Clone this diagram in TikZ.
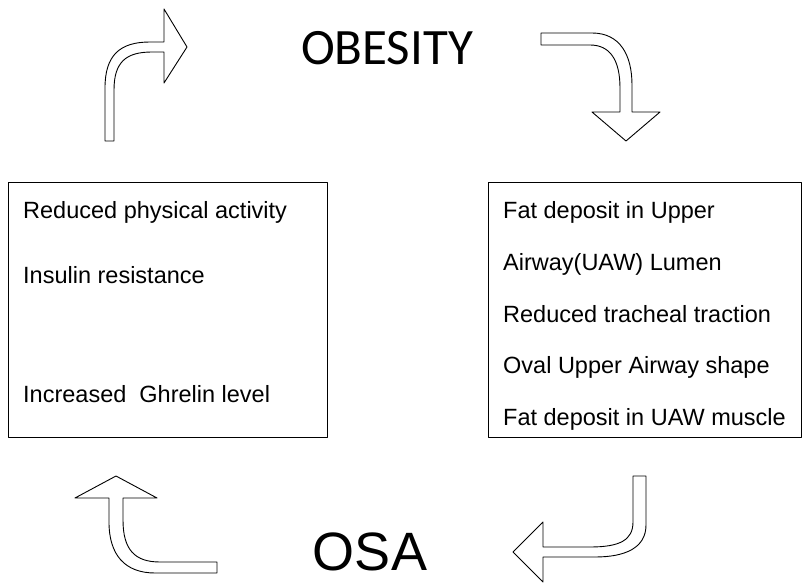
\documentclass[tikz,border=0pt]{standalone}
\usepackage{fontspec}
\setmainfont{Liberation Sans}
\newfontfamily\calfont{Carlito}
\usepackage{tikz}
\usetikzlibrary{arrows}

\begin{document}
\begin{tikzpicture}[line cap=round,line join=round,x=1pt,y=-1pt]
\useasboundingbox (0,0) rectangle (806,583);
\tikzset{boxtext/.style={anchor=base west,inner sep=0pt,font=\fontsize{23.5}{26}\selectfont}}
% boxes
\draw[line width=1pt] (8,182) rectangle (327,437);
\draw[line width=1pt] (488,182) rectangle (801,437);
% titles
\draw (387,65) node[anchor=base,inner sep=0pt,font=\calfont\fontsize{51}{55}\selectfont] (obesity) {OBESITY};
\draw (370,570) node[anchor=base,inner sep=0pt,font=\fontsize{54}{58}\selectfont] (osa) {OSA};
% left box
\draw (23,218) node[boxtext] (lA) {Reduced physical activity};
\draw (23,283) node[boxtext] (lB) {Insulin resistance};
\draw (23,402) node[boxtext] (lC) {Increased\ \ Ghrelin level};
% right box
\draw (503,218) node[boxtext] (rA) {Fat deposit in Upper};
\draw (503,270) node[boxtext] (rB) {Airway(UAW) Lumen};
\draw (503,322) node[boxtext] (rC) {Reduced tracheal traction};
\draw (503,373) node[boxtext] (rD) {Oval Upper Airway shape};
\draw (503,425) node[boxtext] (rE) {Fat deposit in UAW muscle};
% block arrows
\draw[line width=0.9pt] (105,141) -- (105,88) .. controls (105,55) and (120,42) .. (150,42) -- (164,42) -- (164,9) -- (187,47) -- (164,83) -- (164,52) -- (152,52) .. controls (126,52) and (114,62) .. (114,90) -- (114,141) -- cycle;
\draw[line width=0.9pt] (541,33) -- (592,33) .. controls (620,33) and (632,55) .. (632,85) -- (632,112) -- (660,112) -- (626,141) -- (592,112) -- (620,112) -- (620,88) .. controls (620,60) and (610,45) .. (590,45) -- (541,45) -- cycle;
\draw[line width=0.9pt] (646,476) -- (646,525) .. controls (646,548) and (625,557) .. (595,557) -- (543,557) -- (543,582) -- (513,552) -- (543,522) -- (543,547) -- (590,547) .. controls (620,547) and (633,540) .. (633,522) -- (633,476) -- cycle;
\draw[line width=0.9pt] (116,476) -- (157,498) -- (123,498) -- (123,520) .. controls (123,550) and (135,562) .. (160,562) -- (217,562) -- (217,573) -- (155,573) .. controls (125,573) and (109,555) .. (109,522) -- (109,498) -- (75,498) -- cycle;
\end{tikzpicture}
\end{document}
